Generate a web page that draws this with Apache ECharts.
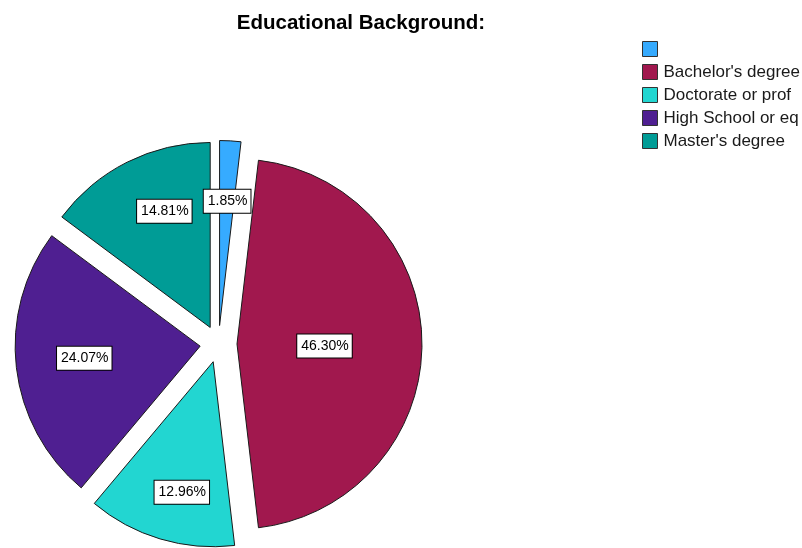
<!DOCTYPE html>
<html>
<head>
<meta charset="utf-8">
<script src="https://cdn.jsdelivr.net/npm/echarts@6/dist/echarts.min.js"></script>
<style>
  html, body { margin: 0; padding: 0; background: #fff; }
  #chart { width: 802px; height: 548px; }
</style>
</head>
<body>
<div id="chart"></div>
<script>
// Educational background of respondents (counts out of 54); the first answer was left blank
const categories = [" ", "Bachelor's degree", "Doctorate or prof", "High School or eq", "Master's degree"];
const counts = [1, 25, 7, 13, 8];
const percentLabels = ["1.85%", "46.30%", "12.96%", "24.07%", "14.81%"];

const sliceColors = ['#36abff', '#a1184e', '#22d6d1', '#4f1f91', '#009c96'];
// nudges of each label box away from its default inside position
const labelOffsets = [[2, -29], [-8, 2], [-4, 39], [-21, 1], [-3, -31]];

const chart = echarts.init(document.getElementById('chart'), null, { renderer: 'canvas' });

const pieData = categories.map((name, i) => ({
  name: name,
  value: counts[i],
  selected: true,
  itemStyle: { color: sliceColors[i] }
}));

chart.setOption({
  animation: false,
  backgroundColor: '#ffffff',
  title: {
    text: 'Educational Background:',
    left: 356,
    textAlign: 'center',
    top: 8,
    textStyle: {
      fontFamily: 'Liberation Sans, Arial, sans-serif',
      fontSize: 20.5,
      fontWeight: 'bold',
      color: '#000'
    }
  },
  legend: {
    orient: 'vertical',
    left: 637,
    top: 35,
    padding: 5,
    itemWidth: 15,
    itemHeight: 15,
    itemGap: 5,
    selectedMode: false,
    icon: 'rect',
    itemStyle: { borderColor: '#333', borderWidth: 1 },
    textStyle: {
      fontFamily: 'Liberation Sans, Arial, sans-serif',
      fontSize: 17,
      lineHeight: 18,
      color: '#1a1a1a',
      padding: [0, 0, 0, 1]
    },
    data: categories
  },
  series: [{
    type: 'pie',
    center: [218.5, 344],
    radius: [0, 185],
    startAngle: 90,
    clockwise: true,
    selectedMode: 'multiple',
    selectedOffset: 18.5,
    avoidLabelOverlap: false,
    emphasis: { disabled: true },
    itemStyle: { borderColor: '#1a1a1a', borderWidth: 1 },
    label: {
      show: true,
      position: 'inside',
      formatter: p => percentLabels[p.dataIndex],
      fontFamily: 'Liberation Sans, Arial, sans-serif',
      fontSize: 14,
      color: '#000',
      backgroundColor: '#ffffff',
      borderColor: '#000',
      borderWidth: 1,
      padding: [5, 3, 4, 4]
    },
    labelLayout: p => ({ dx: labelOffsets[p.dataIndex][0], dy: labelOffsets[p.dataIndex][1] }),
    labelLine: { show: false },
    data: pieData
  }]
});
</script>
</body>
</html>
